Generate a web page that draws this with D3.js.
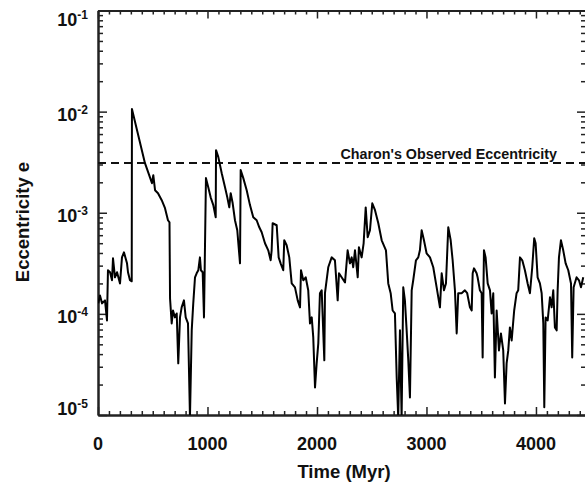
<!DOCTYPE html>
<html><head><meta charset="utf-8">
<script src="https://cdn.jsdelivr.net/npm/d3@7"></script>
<style>
html,body{margin:0;padding:0;background:#fff;}
svg{display:block;font-family:"Liberation Sans",Arial,Helvetica,sans-serif;font-weight:bold;}
</style></head><body>
<svg id="chart" width="585" height="485"></svg>
<script>
// Time (Myr)
const timeMyr = [3,18,37,64,82,91,110,128,137,155,174,201,219,237,265,274,292,308,310,429,493,505,521,548,582,612,639,653,658,673,685,703,719,733,749,764,785,801,822,840,856,870,886,901,916,931,940,956,968,986,1007,1029,1053,1075,1078,1099,1130,1160,1181,1199,1212,1230,1251,1272,1297,1303,1327,1358,1388,1418,1449,1473,1495,1525,1555,1577,1586,1595,1632,1650,1668,1692,1701,1723,1747,1769,1799,1824,1845,1854,1875,1897,1920,1936,1952,1966,1982,1997,2012,2027,2043,2067,2073,2103,2134,2164,2189,2201,2225,2256,2280,2301,2317,2331,2347,2372,2383,2408,2426,2445,2463,2484,2505,2530,2560,2591,2630,2651,2673,2691,2712,2728,2742,2758,2773,2788,2803,2819,2834,2849,2865,2879,2904,2925,2940,2956,2977,3001,3032,3062,3093,3123,3139,3160,3178,3199,3221,3239,3260,3276,3290,3321,3351,3372,3397,3413,3422,3434,3458,3467,3488,3504,3513,3525,3540,3559,3580,3595,3610,3625,3641,3662,3680,3701,3717,3732,3747,3762,3778,3801,3823,3838,3854,3875,3899,3924,3945,3966,3984,3997,4015,4036,4052,4067,4076,4088,4107,4128,4143,4158,4173,4189,4198,4210,4228,4249,4271,4295,4320,4331,4344,4371,4393,4411,4432];
// Eccentricity e
const eccentricity = [1.27e-4,1.52e-4,1.27e-4,1.36e-4,8.6e-5,2.7e-4,2.58e-4,2.15e-4,3.55e-4,2.3e-4,2.58e-4,2.0e-4,3.62e-4,4.06e-4,3.16e-4,2.58e-4,2.15e-4,2.1e-4,0.0106,0.00309,0.00196,0.00235,0.00167,0.00156,0.00133,0.00111,0.000843,0.000805,0.000142,8.05e-5,1.08e-4,9.23e-5,1.01e-4,3.24e-5,9.23e-5,1.16e-4,1.36e-4,9.23e-5,8.05e-5,9.5e-6,6.87e-5,1.27e-4,2.3e-4,2.52e-4,2.7e-4,3.62e-4,2.7e-4,2.58e-4,9.23e-5,0.0022,0.00179,0.00142,0.00119,0.000902,0.00416,0.00355,0.00246,0.00179,0.00142,0.00113,0.00156,0.00124,0.000843,0.000671,0.000316,0.00264,0.0022,0.00167,0.00119,0.000902,0.000843,0.000718,0.000641,0.000499,0.000425,0.000339,0.000425,0.000787,0.000752,0.000362,0.000316,0.00027,0.000534,0.000477,0.000362,0.0002,0.000183,0.000136,0.000116,0.00027,0.000215,0.00023,0.000171,8.05e-5,9.23e-5,5.85e-5,1.87e-5,3.24e-5,5.1e-5,0.00016,0.000171,3.47e-5,0.00016,0.000289,0.000362,0.000339,0.000136,0.000252,0.00023,0.000205,0.000425,0.000316,0.000362,0.000289,0.000425,0.00023,0.000455,0.000362,0.000499,0.00113,0.000572,0.000671,0.00124,0.00106,0.000787,0.000534,4.25e-4,2.0e-4,1.6e-4,1.08e-4,1.01e-4,2.35e-5,9.5e-6,6.87e-5,9.5e-6,1.83e-4,1.36e-4,6.87e-5,3.47e-5,1.49e-5,1.71e-4,2.15e-4,3.39e-4,3.62e-4,4.25e-4,6.71e-4,5.34e-4,3.97e-4,3.62e-4,2.89e-4,1.83e-4,1.16e-4,2.52e-4,1.71e-4,2.0e-4,7.18e-4,5.34e-4,3.39e-4,1.71e-4,6.41e-5,1.6e-4,1.6e-4,1.71e-4,1.6e-4,1.16e-4,1.08e-4,2.52e-4,2.82e-4,2.52e-4,2.3e-4,1.71e-4,1.6e-4,3.71e-5,4.25e-4,3.62e-4,2.0e-4,1.71e-4,1.01e-4,1.6e-4,2.35e-5,1.08e-4,4.35e-5,6.41e-5,4.35e-5,1.3e-5,3.24e-5,4.35e-5,7.35e-5,5.46e-5,1.08e-4,1.6e-4,1.71e-4,3.62e-4,3.39e-4,2.7e-4,2.0e-4,1.6e-4,2.89e-4,5.59e-4,4.99e-4,2.3e-4,2.0e-4,1.6e-4,8.05e-5,1.19e-5,9.23e-5,8.63e-5,1.46e-4,1.16e-4,1.71e-4,7.35e-5,6.87e-5,1.71e-4,3.62e-4,5.34e-4,4.25e-4,3.16e-4,2.7e-4,2.0e-4,3.71e-5,1.83e-4,2.3e-4,2.15e-4,1.83e-4,2.3e-4];
const charonObserved = 0.0031;
const charonLabel = "Charon's Observed Eccentricity";
const xMajorTicks = [0,1000,2000,3000,4000];
const yMajorExponents = [-1,-2,-3,-4,-5];
const xTitle = "Time (Myr)";
const yTitle = "Eccentricity e";

const svg = d3.select("#chart");
const L = 98, R = 586, T = 10.5, B = 415;
const x = d3.scaleLinear().domain([0, 4457]).range([L, R]);
const y = d3.scaleLog().domain([1e-5, 1e-1]).range([B, T]);

const xMinor = d3.range(0, 4457, 100).filter(v => v % 1000 !== 0);
const yMajor = yMajorExponents.map(e => Math.pow(10, e));
const yMinor = [];
for (let e = -5; e < -1; e++) for (let k = 2; k <= 9; k++) yMinor.push(k * Math.pow(10, e));

svg.append("clipPath").attr("id","clip").append("rect")
  .attr("x", L).attr("y", T).attr("width", R - L).attr("height", B - T);

const axisColor = "#222";
function styleAxis(g){
  g.selectAll("path.domain").attr("stroke", axisColor).attr("stroke-width", 2);
  g.selectAll(".tick line").attr("stroke", axisColor).attr("stroke-width", 1.5);
  g.selectAll(".tick text").remove();
}
// bottom
svg.append("g").attr("transform",`translate(0,${B})`)
  .call(d3.axisBottom(x).tickValues(xMajorTicks).tickSize(-8).tickSizeOuter(0).tickFormat("")).call(styleAxis);
svg.append("g").attr("transform",`translate(0,${B})`)
  .call(d3.axisBottom(x).tickValues(xMinor).tickSize(-4).tickSizeOuter(0).tickFormat("")).call(styleAxis);
// top
svg.append("g").attr("transform",`translate(0,${T})`)
  .call(d3.axisTop(x).tickValues(xMajorTicks).tickSize(-8).tickSizeOuter(0).tickFormat("")).call(styleAxis);
svg.append("g").attr("transform",`translate(0,${T})`)
  .call(d3.axisTop(x).tickValues(xMinor).tickSize(-4).tickSizeOuter(0).tickFormat("")).call(styleAxis);
// left
svg.append("g").attr("transform",`translate(${L},0)`)
  .call(d3.axisLeft(y).tickValues(yMajor).tickSize(-9).tickSizeOuter(0).tickFormat("")).call(styleAxis);
svg.append("g").attr("transform",`translate(${L},0)`)
  .call(d3.axisLeft(y).tickValues(yMinor).tickSize(-5).tickSizeOuter(0).tickFormat("")).call(styleAxis);
// right
svg.append("g").attr("transform",`translate(${R},0)`)
  .call(d3.axisRight(y).tickValues(yMajor).tickSize(-9).tickSizeOuter(0).tickFormat("")).call(styleAxis);
svg.append("g").attr("transform",`translate(${R},0)`)
  .call(d3.axisRight(y).tickValues(yMinor).tickSize(-5).tickSizeOuter(0).tickFormat("")).call(styleAxis);

// x tick labels
svg.append("g").selectAll("text").data(xMajorTicks).join("text")
  .attr("x", d => x(d)).attr("y", 450)
  .attr("text-anchor","middle").attr("font-size", 18).attr("fill","#111")
  .text(d => d);

// y tick labels
const yl = svg.append("g").selectAll("text").data(yMajorExponents).join("text")
  .attr("x", 88)
  .attr("y", d => Math.min(Math.max(y(Math.pow(10,d)) + 9.5, 26), 415))
  .attr("text-anchor","end").attr("font-size", 18).attr("fill","#111");
yl.append("tspan").text("10");
yl.append("tspan").attr("font-size", 12).attr("dy", -7).text(d => "-" + Math.abs(d));

// axis titles
svg.append("text").attr("x", 344).attr("y", 478).attr("text-anchor","middle")
  .attr("font-size", 18.5).attr("fill","#111").text(xTitle);
svg.append("text").attr("transform","translate(29,222) rotate(-90)").attr("text-anchor","middle")
  .attr("font-size", 18.5).attr("fill","#111").text(yTitle);

// observed line
svg.append("line").attr("x1", L).attr("x2", R).attr("y1", y(charonObserved)).attr("y2", y(charonObserved))
  .attr("stroke","#111").attr("stroke-width", 2).attr("stroke-dasharray","8,5");
svg.append("text").attr("x", 340.5).attr("y", 159).attr("font-size", 14.3).attr("fill","#111").text(charonLabel);

// data line
const pts = timeMyr.map((t,i) => [t, eccentricity[i]]);
svg.append("path").datum(pts).attr("clip-path","url(#clip)")
  .attr("fill","none").attr("stroke","#000").attr("stroke-width", 2).attr("stroke-linejoin","round")
  .attr("d", d3.line().x(d => x(d[0])).y(d => y(d[1])));
</script>
</body></html>
